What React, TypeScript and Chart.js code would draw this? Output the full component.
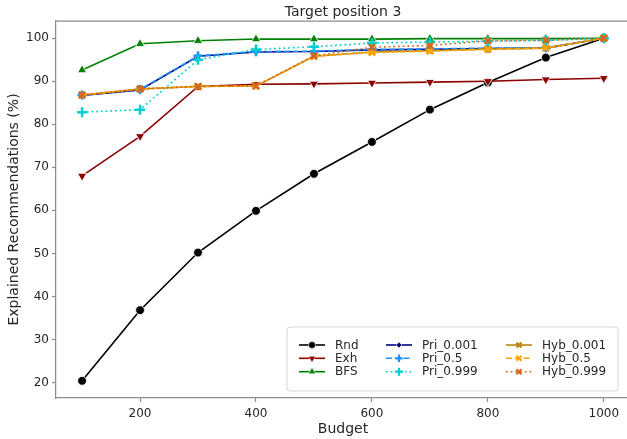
import React, { useEffect, useRef } from 'react';
import { Chart, registerables } from 'chart.js';
import { drawPoint } from 'chart.js/helpers';

Chart.register(...registerables);

// ---------- data ----------
const budgets = [100, 200, 300, 400, 500, 600, 700, 800, 900, 1000];
const xTicks = [200, 400, 600, 800, 1000];
const yTicks = [20, 30, 40, 50, 60, 70, 80, 90, 100];

const rnd = [20.4, 36.8, 50.2, 59.9, 68.5, 75.9, 83.4, 89.7, 95.5, 100];
const exh = [68.0, 77.2, 88.8, 89.3, 89.4, 89.6, 89.8, 90.0, 90.4, 90.7];
const bfs = [92.6, 98.7, 99.4, 99.8, 99.8, 99.8, 99.9, 99.9, 99.9, 100];
const pri0001 = [86.7, 88.0, 95.8, 96.8, 96.9, 97.3, 97.4, 97.6, 97.7, 100];
const pri05 = [86.8, 88.1, 95.9, 96.9, 97.0, 97.4, 97.5, 97.7, 97.8, 100];
const pri0999 = [82.8, 83.4, 95.0, 97.4, 98.0, 98.9, 99.1, 99.3, 99.5, 100];
const hyb0001 = [86.8, 88.2, 88.8, 88.9, 95.8, 96.8, 97.1, 97.5, 97.7, 100];
const hyb05 = [86.8, 88.2, 88.8, 88.9, 95.8, 96.7, 97.0, 97.4, 97.7, 100];
const hyb0999 = [86.8, 88.2, 88.8, 88.9, 95.9, 97.9, 98.3, 99.4, 99.5, 100];

const seriesNames = ['Rnd', 'Exh', 'BFS', 'Pri_0.001', 'Pri_0.5', 'Pri_0.999', 'Hyb_0.001', 'Hyb_0.5', 'Hyb_0.999'];
const seriesValues = [rnd, exh, bfs, pri0001, pri05, pri0999, hyb0001, hyb05, hyb0999];

const titleText = 'Target position 3';
const xLabel = 'Budget';
const yLabel = 'Explained Recommendations (%)';

// ---------- styles ----------
type Sty = { color: string; dash: number[]; pointStyle: string; rotation: number; radius: number; filled: boolean };
const styles: Sty[] = [
  { color: '#000000', dash: [], pointStyle: 'circle', rotation: 0, radius: 4.4, filled: true },
  { color: '#8b0000', dash: [], pointStyle: 'triangle', rotation: 180, radius: 5.2, filled: true },
  { color: '#008000', dash: [], pointStyle: 'triangle', rotation: 0, radius: 5.2, filled: true },
  { color: '#000080', dash: [], pointStyle: 'rectRot', rotation: 0, radius: 3.6, filled: true },
  { color: '#1e90ff', dash: [6, 2.8], pointStyle: 'cross', rotation: 0, radius: 4.6, filled: false },
  { color: '#00ced1', dash: [1.8, 2.9], pointStyle: 'cross', rotation: 0, radius: 5, filled: false },
  { color: '#b8860b', dash: [], pointStyle: 'crossRot', rotation: 0, radius: 4.4, filled: false },
  { color: '#ffa500', dash: [6, 2.8], pointStyle: 'crossRot', rotation: 0, radius: 4.4, filled: false },
  { color: '#d2691e', dash: [1.8, 2.9], pointStyle: 'crossRot', rotation: 0, radius: 4.4, filled: false },
];

const FONT = '"DejaVu Sans", sans-serif';
const TEXT = '#262626';
const SPINE = '#8c8c8c';
const TITLE_CENTER_X = 343;

const decorPlugin = {
  id: 'decor',
  afterDraw(chart: any) {
    const ctx = chart.ctx as CanvasRenderingContext2D;
    const { left, top, right, bottom } = chart.chartArea;
    ctx.save();
    // top spine
    ctx.strokeStyle = SPINE;
    ctx.lineWidth = 1.25;
    ctx.setLineDash([]);
    ctx.beginPath();
    ctx.moveTo(left, top);
    ctx.lineTo(right + 2, top);
    ctx.stroke();

    // title
    ctx.fillStyle = TEXT;
    ctx.font = `14px ${FONT}`;
    ctx.textAlign = 'center';
    ctx.textBaseline = 'middle';
    ctx.fillText(titleText, TITLE_CENTER_X, 12);
    // x label
    ctx.fillText(xLabel, TITLE_CENTER_X, 429);
    // y label
    ctx.save();
    ctx.translate(14, (top + bottom) / 2);
    ctx.rotate(-Math.PI / 2);
    ctx.fillText(yLabel, 0, 0);
    ctx.restore();

    // legend box
    const bx = 287, by = 327, bw = 331, bh = 64, r = 3;
    ctx.beginPath();
    ctx.moveTo(bx + r, by);
    ctx.arcTo(bx + bw, by, bx + bw, by + bh, r);
    ctx.arcTo(bx + bw, by + bh, bx, by + bh, r);
    ctx.arcTo(bx, by + bh, bx, by, r);
    ctx.arcTo(bx, by, bx + bw, by, r);
    ctx.closePath();
    ctx.fillStyle = 'rgba(255,255,255,0.85)';
    ctx.fill();
    ctx.strokeStyle = '#d6d6d6';
    ctx.lineWidth = 1;
    ctx.stroke();

    const colX = [299, 386, 506];
    const rowY = [345, 358.3, 371.7];
    ctx.font = `12px ${FONT}`;
    ctx.textAlign = 'left';
    ctx.textBaseline = 'middle';
    seriesNames.forEach((name, i) => {
      const s = styles[i];
      const x0 = colX[Math.floor(i / 3)];
      const y = rowY[i % 3];
      const len = 26;
      ctx.strokeStyle = s.color;
      ctx.lineWidth = 1.6;
      ctx.setLineDash(s.dash);
      ctx.beginPath();
      ctx.moveTo(x0, y);
      ctx.lineTo(x0 + len, y);
      ctx.stroke();
      ctx.setLineDash([]);
      ctx.fillStyle = s.color;
      ctx.strokeStyle = s.filled ? '#ffffff' : s.color;
      ctx.lineWidth = s.filled ? 0.6 : 2.2;
      drawPoint(ctx, { pointStyle: s.pointStyle as any, rotation: s.rotation, radius: s.radius * 0.8, borderWidth: ctx.lineWidth }, x0 + len / 2, y);
      ctx.fillStyle = TEXT;
      ctx.fillText(name, x0 + len + 10, y + 0.5);
    });
    ctx.restore();
  },
};

export default function App() {
  const ref = useRef<HTMLCanvasElement>(null);
  useEffect(() => {
    document.body.style.margin = '0';
    const n = seriesNames.length;
    const datasets = seriesNames.map((name, i) => {
      const s = styles[i];
      return {
        label: name,
        data: budgets.map((b, k) => ({ x: b, y: seriesValues[i][k] })),
        borderColor: s.color,
        backgroundColor: s.color,
        borderWidth: 1.6,
        borderDash: s.dash,
        pointStyle: s.pointStyle,
        rotation: s.rotation,
        pointRadius: s.radius,
        pointBackgroundColor: s.color,
        pointBorderColor: s.filled ? '#ffffff' : s.color,
        pointBorderWidth: s.filled ? 0.8 : 2.5,
        fill: false,
        tension: 0,
        order: n - 1 - i,
      };
    });
    const chart = new Chart(ref.current!, {
      type: 'line',
      data: { datasets } as any,
      plugins: [decorPlugin],
      options: {
        responsive: false,
        animation: false,
        devicePixelRatio: 1,
        layout: { autoPadding: false, padding: { left: 0, top: 21, right: 0, bottom: 0 } },
        plugins: { legend: { display: false }, title: { display: false }, tooltip: { enabled: false } },
        scales: {
          x: {
            type: 'linear',
            min: 55,
            max: 1040,
            afterFit: (s: any) => { s.height = 41; },
            afterBuildTicks: (s: any) => { s.ticks = xTicks.map((v) => ({ value: v })); },
            border: { display: true, color: SPINE, width: 1.25 },
            grid: { display: true, drawOnChartArea: false, drawTicks: true, tickLength: 4, tickColor: SPINE, tickWidth: 1.25 },
            ticks: { color: TEXT, font: { family: FONT, size: 12 }, padding: 5, maxRotation: 0, callback: (v: any) => String(v) },
          },
          y: {
            type: 'linear',
            min: 16.4,
            max: 104.0,
            afterFit: (s: any) => { s.width = 56; },
            afterBuildTicks: (s: any) => { s.ticks = yTicks.map((v) => ({ value: v })); },
            border: { display: true, color: SPINE, width: 1.25 },
            grid: { display: true, drawOnChartArea: false, drawTicks: true, tickLength: 4, tickColor: SPINE, tickWidth: 1.25 },
            ticks: { color: TEXT, font: { family: FONT, size: 12 }, padding: 3, callback: (v: any) => String(v) },
          },
        },
      } as any,
    });
    return () => chart.destroy();
  }, []);
  return (
    <div style={{ position: 'fixed', left: 0, top: 0, width: 627, height: 439, overflow: 'hidden', background: '#ffffff' }}>
      <canvas ref={ref} width={627} height={439} style={{ display: 'block' }} />
    </div>
  );
}
